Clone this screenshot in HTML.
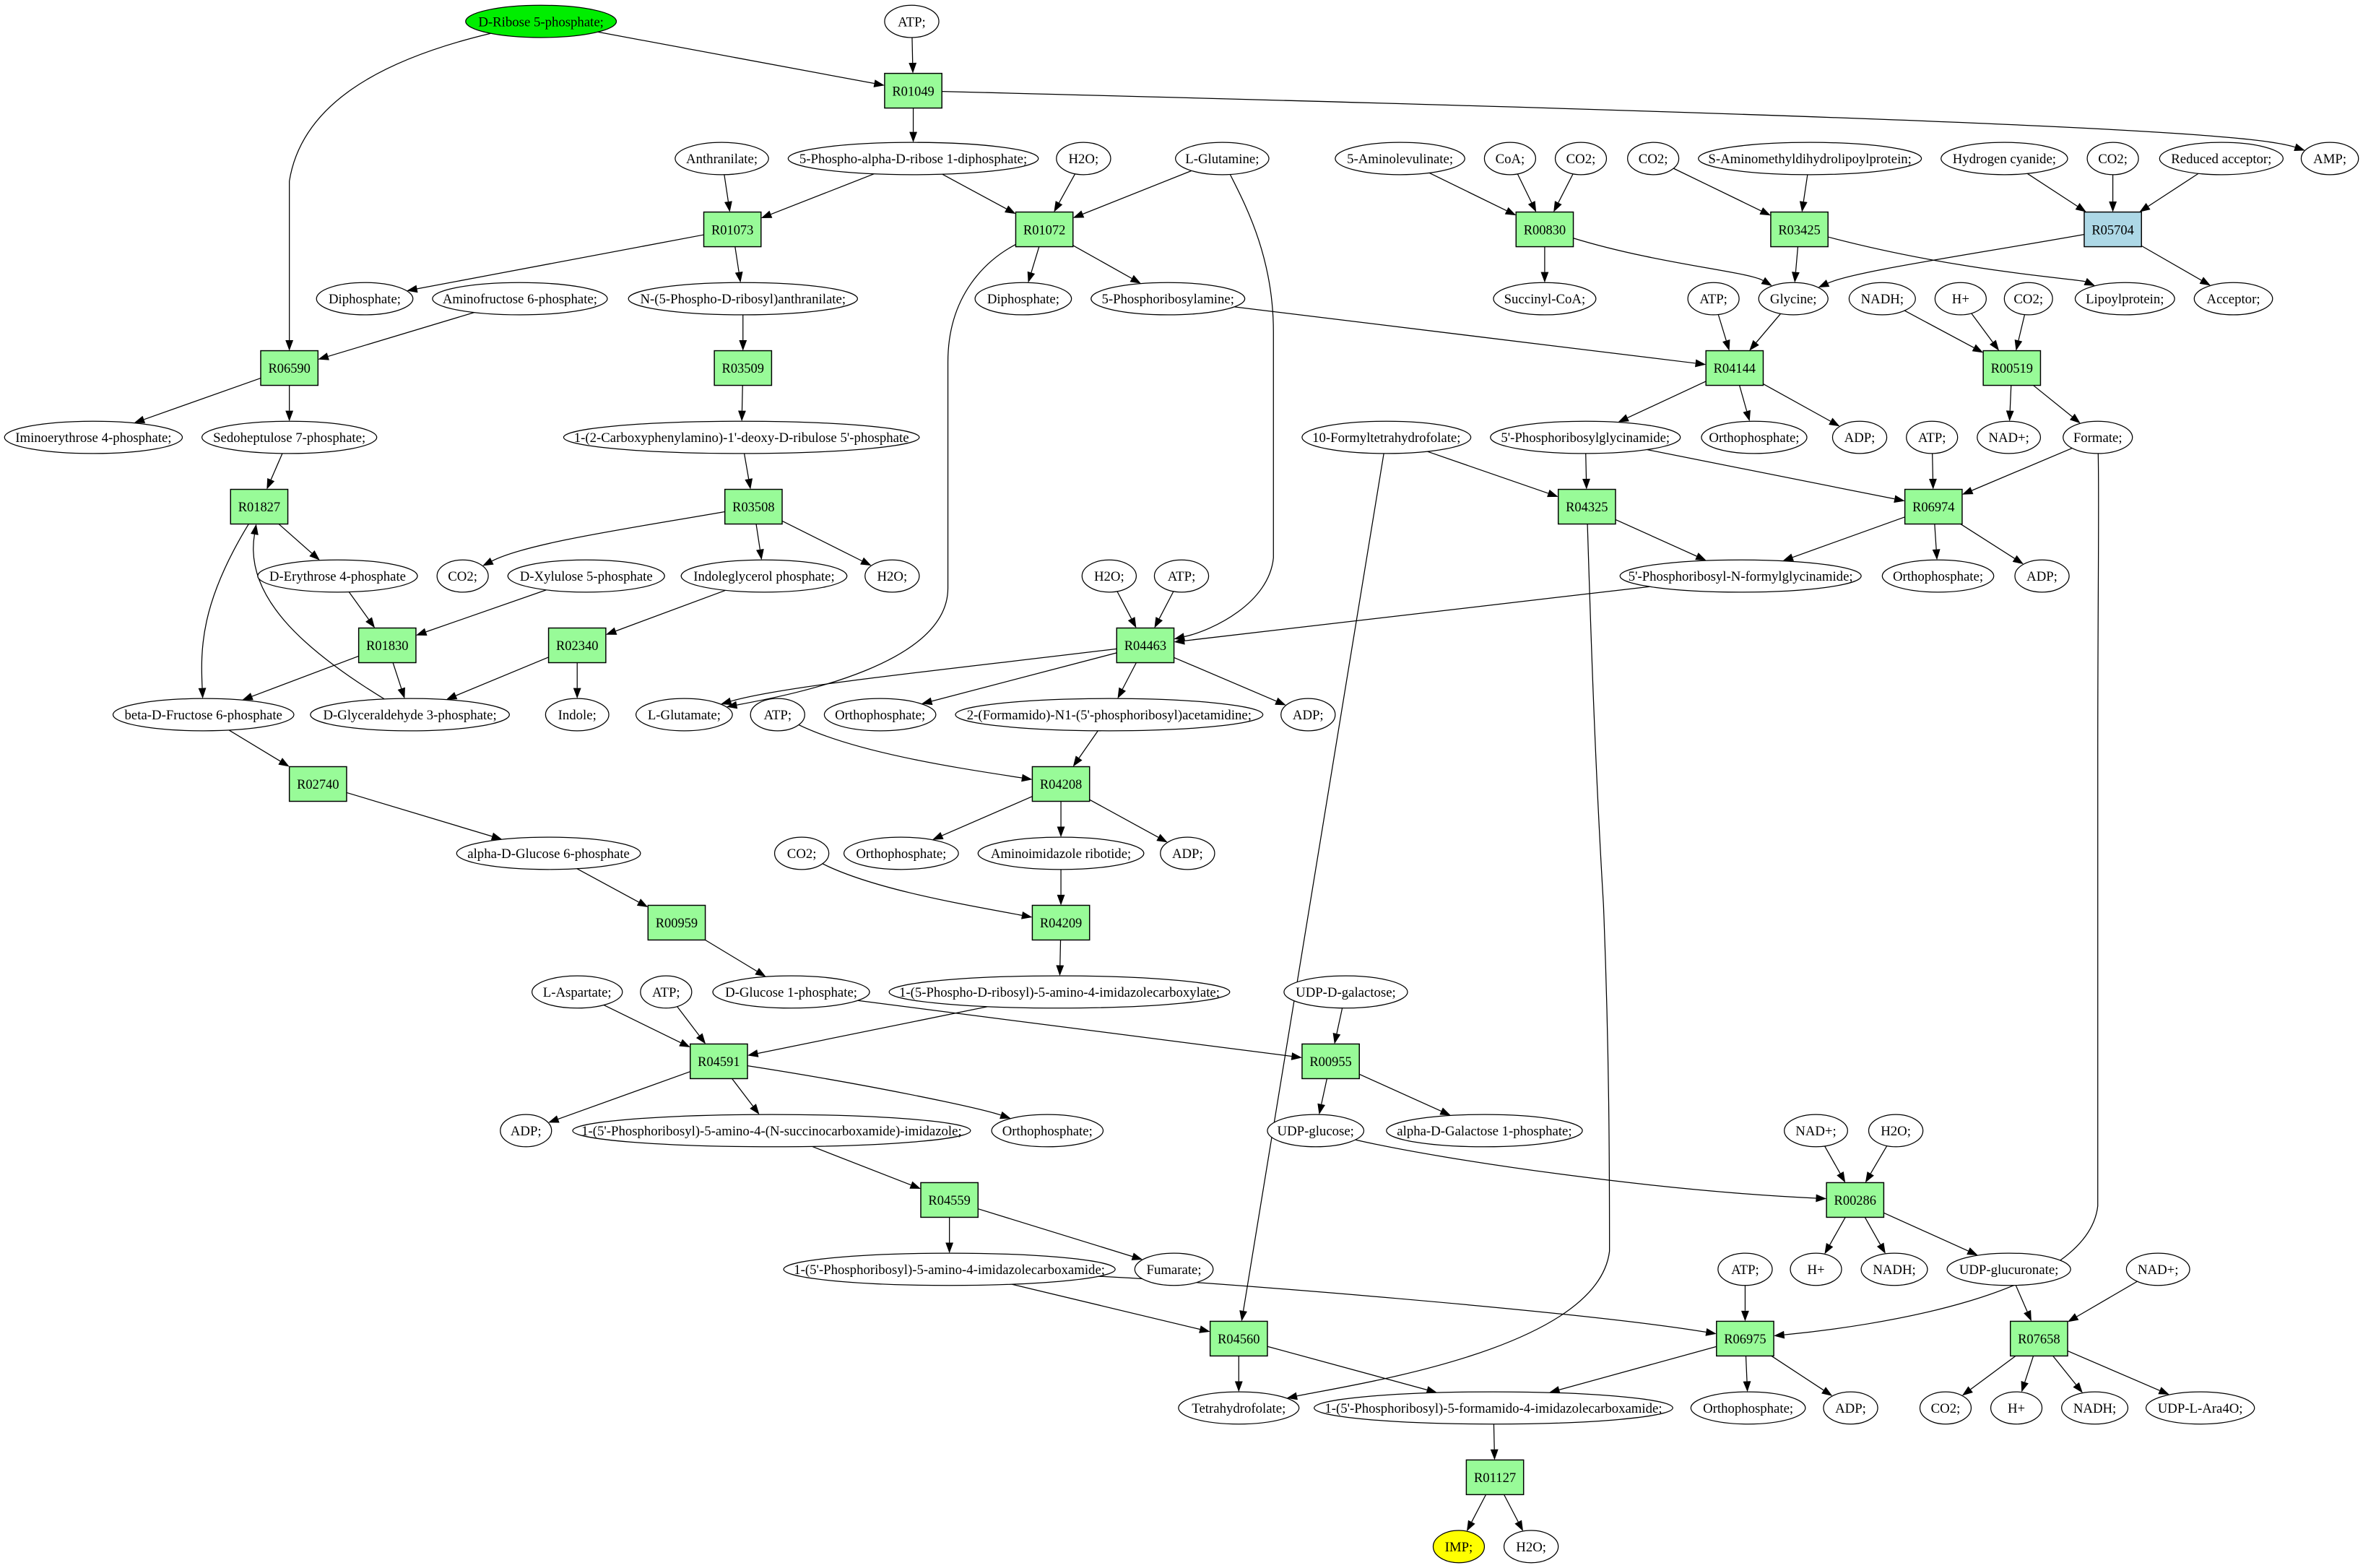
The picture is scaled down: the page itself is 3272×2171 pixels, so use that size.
<!DOCTYPE html>
<html><head><meta charset="utf-8"><style>
html,body{margin:0;padding:0;background:#fff;}
svg{display:block;}
text{font-family:"Liberation Serif",serif;font-size:9px;}
</style></head><body>
<svg id="s" width="3272" height="2171" viewBox="0 0 1568 1040" xmlns="http://www.w3.org/2000/svg">
<rect width="1568" height="1040" fill="#fff"/>
<g id="E" stroke="#000" stroke-width="0.6" fill="none"></g>
<g id="A" fill="#000"></g>
<g id="N"></g>
</svg>
<script>
var N={};
function e(id,x,y,rx,label,fill){N[id]={t:'e',x:x,y:y,rx:rx,ry:10.7,l:label||id,f:fill||'#fff'};}
function b(id,x,y,fill){N[id]={t:'b',x:x,y:y,w:19,h:11.5,l:id,f:fill||'#98fb98'};}
e('DR',359,14,50,'D-Ribose 5-phosphate;','#00ee00');e('ATP0',605,14,18,'ATP;');
b('R01049',606,60);
e('AMP',1546,105,19,'AMP;');
e('Anth',479,105,31,'Anthranilate;');e('PRPP',606,105,83,'5-Phospho-alpha-D-ribose 1-diphosphate;');
e('H2O1',719,105,18,'H2O;');e('Gln',811,105,31,'L-Glutamine;');e('ALA',929,105,43,'5-Aminolevulinate;');
e('CoA',1002,105,17,'CoA;');e('CO2a',1049,105,17,'CO2;');e('CO2b',1097,105,17,'CO2;');
e('SAm',1201,105,74,'S-Aminomethyldihydrolipoylprotein;');e('HCN',1330,105,42,'Hydrogen cyanide;');
e('CO2c',1402,105,17,'CO2;');e('RedA',1474,105,41,'Reduced acceptor;');
b('R01073',486,152);b('R01072',693,152);b('R00830',1025,152);b('R03425',1194,152);b('R05704',1402,152,'#add8e6');
e('PPi1',242,198,32,'Diphosphate;');e('AmF',345,198,58,'Aminofructose 6-phosphate;');
e('NPRA',493,198,76,'N-(5-Phospho-D-ribosyl)anthranilate;');e('PPi2',679,198,32,'Diphosphate;');
e('PRA',775,198,51,'5-Phosphoribosylamine;');e('SucCoA',1025,198,34,'Succinyl-CoA;');
e('ATP1',1137,198,17,'ATP;');e('Gly',1190,198,23,'Glycine;');e('NADH0',1249,198,22,'NADH;');
e('Hp0',1301,198,17,'H+');e('CO2d',1346,198,16,'CO2;');e('Lip',1410,198,33,'Lipoylprotein;');e('Acc',1482,198,26,'Acceptor;');
b('R06590',192,244);b('R03509',493,244);b('R04144',1151,244);b('R00519',1335,244);
e('Imino',62,290,59,'Iminoerythrose 4-phosphate;');e('Sed',192,290,58,'Sedoheptulose 7-phosphate;');
e('CDRP',492,290,118,"1-(2-Carboxyphenylamino)-1'-deoxy-D-ribulose 5'-phosphate");
e('FTHF',920,290,56,'10-Formyltetrahydrofolate;');e('GAR',1052,290,63,"5'-Phosphoribosylglycinamide;");
e('Pi1',1164,290,35,'Orthophosphate;');e('ADP1',1234,290,18,'ADP;');e('ATP2',1282,290,17,'ATP;');
e('NADp0',1333,290,21,'NAD+;');e('Form',1392,290,23,'Formate;');
b('R01827',172,336);b('R03508',500,336);b('R04325',1053,336);b('R06974',1283,336);
e('E4P',224,382,53,'D-Erythrose 4-phosphate');e('CO2e',307,382,17,'CO2;');e('Xu5P',389,382,52,'D-Xylulose 5-phosphate');
e('IGP',507,382,55,'Indoleglycerol phosphate;');e('H2O2',592,382,18,'H2O;');e('H2O3',736,382,18,'H2O;');
e('ATP3',784,382,18,'ATP;');e('FGAR',1155,382,80,"5'-Phosphoribosyl-N-formylglycinamide;");
e('Pi2',1286,382,37,'Orthophosphate;');e('ADP2',1355,382,18,'ADP;');
b('R01830',257,428);b('R02340',383,428);b('R04463',760,428);
e('F6P',135,474,60,'beta-D-Fructose 6-phosphate');e('GAP',272,474,66,'D-Glyceraldehyde 3-phosphate;');
e('Ind',383,474,21,'Indole;');e('Glu',454,474,32,'L-Glutamate;');e('ATP4',516,474,18,'ATP;');
e('Pi3',584,474,37,'Orthophosphate;');e('FGAM',736,474,102,"2-(Formamido)-N1-(5'-phosphoribosyl)acetamidine;");e('ADP3',868,474,18,'ADP;');
b('R02740',211,520);b('R04208',704,520);
e('G6P',364,566,61,'alpha-D-Glucose 6-phosphate');e('CO2f',532,566,18,'CO2;');e('Pi4',598,566,38,'Orthophosphate;');
e('AIR',704,566,55,'Aminoimidazole ribotide;');e('ADP4',788,566,18,'ADP;');
b('R00959',449,612);b('R04209',704,612);
e('Asp',383,658,30,'L-Aspartate;');e('ATP5',442,658,17,'ATP;');e('G1P',525,658,52,'D-Glucose 1-phosphate;');
e('CAIR',703,658,113,'1-(5-Phospho-D-ribosyl)-5-amino-4-imidazolecarboxylate;');e('UDPgal',893,658,41,'UDP-D-galactose;');
b('R04591',477,704);b('R00955',883,704);
e('ADP5',349,750,17,'ADP;');e('SAICAR',512,750,132,"1-(5'-Phosphoribosyl)-5-amino-4-(N-succinocarboxamide)-imidazole;");
e('Pi5',695,750,37,'Orthophosphate;');e('UDPglc',873,750,32,'UDP-glucose;');e('Gal1P',985,750,65,'alpha-D-Galactose 1-phosphate;');
e('NADp1',1205,750,21,'NAD+;');e('H2O4',1258,750,18,'H2O;');
b('R04559',630,796);b('R00286',1231,796);
e('AICAR',630,842,110,"1-(5'-Phosphoribosyl)-5-amino-4-imidazolecarboxamide;");e('Fum',779,842,26,'Fumarate;');
e('ATP6',1158,842,18,'ATP;');e('Hp1',1205,842,17,'H+');e('NADH1',1257,842,22,'NADH;');
e('UDPGA',1333,842,41,'UDP-glucuronate;');e('NADp2',1432,842,21,'NAD+;');
b('R04560',822,888);b('R06975',1158,888);b('R07658',1353,888);
e('THF',822,934,40,'Tetrahydrofolate;');e('FAICAR',991,934,119,"1-(5'-Phosphoribosyl)-5-formamido-4-imidazolecarboxamide;");
e('Pi6',1160,934,38,'Orthophosphate;');e('ADP6',1228,934,18,'ADP;');e('CO2g',1291,934,17,'CO2;');
e('Hp2',1338,934,17,'H+');e('NADH2',1390,934,22,'NADH;');e('Ara',1460,934,36,'UDP-L-Ara4O;');
b('R01127',992,980);
e('IMP',968,1026,17,'IMP;','#ffff00');e('H2O5',1016,1026,18,'H2O;');

var E=[
['DR','R01049'],['ATP0','R01049'],['R01049','PRPP'],['R01049','AMP',[[1400,80],[1500,90]]],
['DR','R06590',[[250,40],[200,70],[192,120],[192,180],[192,220]]],
['Anth','R01073'],['PRPP','R01073'],['PRPP','R01072'],['H2O1','R01072'],['Gln','R01072'],
['R01073','PPi1'],['R01073','NPRA'],['AmF','R06590'],['R01072','PPi2'],['R01072','PRA'],
['R01072','Glu',[[655,172],[629,195],[629,240],[629,320],[629,360],[629,390],[629,440],[530,460]]],
['Gln','R04463',[[826,135],[845,170],[845,220],[845,290],[845,330],[845,370],[842,400],[805,418]]],
['ALA','R00830'],['CoA','R00830'],['CO2a','R00830'],['R00830','SucCoA'],['R00830','Gly',[[1100,175],[1160,180]]],
['CO2b','R03425'],['SAm','R03425'],['R03425','Gly'],['R03425','Lip',[[1300,180],[1380,185]]],
['HCN','R05704'],['CO2c','R05704'],['RedA','R05704'],['R05704','Gly',[[1300,170],[1230,180]]],['R05704','Acc'],
['R06590','Imino'],['R06590','Sed'],['NPRA','R03509'],['R03509','CDRP'],['CDRP','R03508'],
['PRA','R04144'],['ATP1','R04144'],['Gly','R04144'],['R04144','GAR'],['R04144','Pi1'],['R04144','ADP1'],
['NADH0','R00519'],['Hp0','R00519'],['CO2d','R00519'],['R00519','NADp0'],['R00519','Form'],
['Sed','R01827'],['R01827','E4P'],['R01827','F6P',[[140,375],[133,400],[133,430]].slice(1)],
['GAP','R01827',[[200,430],[162,395]]],
['R03508','CO2e',[[420,350],[350,360]]],['R03508','IGP'],['R03508','H2O2'],
['FTHF','R04325'],['GAR','R04325'],['GAR','R06974'],['ATP2','R06974'],['Form','R06974'],
['R04325','FGAR'],['R06974','FGAR'],['R06974','Pi2'],['R06974','ADP2'],
['FTHF','R04560'],
['Form','R06975',[[1393,330],[1392,400],[1392,500],[1392,650],[1392,750],[1392,800],[1385,860],[1240,880]]],
['R04325','THF',[[1055,400],[1058,500],[1064,600],[1068,700],[1068,780],[1068,830],[1060,895],[900,918]]],
['E4P','R01830'],['Xu5P','R01830'],['R01830','F6P'],['R01830','GAP'],['IGP','R02340'],['R02340','GAP'],['R02340','Ind'],
['FGAR','R04463'],['H2O3','R04463'],['ATP3','R04463'],['R04463','Glu',[[620,445],[520,455]]],['R04463','Pi3'],['R04463','FGAM'],['R04463','ADP3'],
['F6P','R02740'],['R02740','G6P'],['G6P','R00959'],['R00959','G1P'],
['FGAM','R04208'],['ATP4','R04208',[[570,500],[640,510]]],['R04208','Pi4'],['R04208','AIR'],['R04208','ADP4'],
['AIR','R04209'],['CO2f','R04209',[[580,590],[640,600]]],['R04209','CAIR'],
['CAIR','R04591'],['Asp','R04591'],['ATP5','R04591'],['R04591','ADP5'],['R04591','SAICAR'],['R04591','Pi5',[[580,720],[650,735]]],
['G1P','R00955'],['UDPgal','R00955'],['R00955','UDPglc'],['R00955','Gal1P'],
['SAICAR','R04559'],['R04559','AICAR'],['R04559','Fum'],
['UDPglc','R00286',[[960,770],[1100,790]]],['NADp1','R00286'],['H2O4','R00286'],['R00286','Hp1'],['R00286','NADH1'],['R00286','UDPGA'],
['AICAR','R04560'],['AICAR','R06975',[[800,850],[1050,870]]],['ATP6','R06975'],['R04560','THF'],['R04560','FAICAR'],
['R06975','FAICAR'],['R06975','Pi6'],['R06975','ADP6'],
['UDPGA','R07658'],['NADp2','R07658'],['R07658','CO2g'],['R07658','Hp2'],['R07658','NADH2'],['R07658','Ara'],
['FAICAR','R01127'],['R01127','IMP'],['R01127','H2O5']
];
function clip(n,px,py){
 var dx=px-n.x,dy=py-n.y;
 if(n.t=='e'){var k=1/Math.sqrt(dx*dx/(n.rx*n.rx)+dy*dy/(n.ry*n.ry));return [n.x+dx*k,n.y+dy*k];}
 var k=Math.min(n.w/Math.abs(dx||1e-9),n.h/Math.abs(dy||1e-9));return [n.x+dx*k,n.y+dy*k];
}
var ns='http://www.w3.org/2000/svg';
function mk(tag,at,par,txt){var el=document.createElementNS(ns,tag);for(var k in at)el.setAttribute(k,at[k]);if(txt!=null)el.textContent=txt;document.getElementById(par).appendChild(el);return el;}
E.forEach(function(ed){
 var a=N[ed[0]],c=N[ed[1]],P=ed[2]||[];
 var first=P.length?P[0]:[c.x,c.y];
 var s=clip(a,first[0],first[1]);
 var last=P.length?P[P.length-1]:s;
 var t=clip(c,last[0],last[1]);
 var dx=t[0]-last[0],dy=t[1]-last[1],L=Math.sqrt(dx*dx+dy*dy)||1,ux=dx/L,uy=dy/L;
 var al=7,aw=2.6;var bx=t[0]-ux*al,by=t[1]-uy*al;
 var d='M'+s[0]+','+s[1];
 if(P.length){
  var i=0;
  while(P.length-i>2){d+=' C'+P[i]+' '+P[i+1]+' '+P[i+2];i+=3;}
  d+=' C'+P[i]+' '+P[i+1]+' '+bx+','+by;
 } else d+=' L'+bx+','+by;
 mk('path',{d:d},'E');
 mk('polygon',{points:t[0]+','+t[1]+' '+(bx-uy*aw)+','+(by+ux*aw)+' '+(bx+uy*aw)+','+(by-ux*aw)},'A');
});
for(var id in N){var n=N[id],tx,tl;
 if(n.t=='e'){mk('ellipse',{cx:n.x,cy:n.y,rx:n.rx,ry:n.ry,fill:n.f,stroke:'#000','stroke-width':0.6},'N');
  tl=Math.max(8,2*n.rx-9);}
 else{mk('rect',{x:n.x-n.w,y:n.y-n.h,width:2*n.w,height:2*n.h,fill:n.f,stroke:'#000','stroke-width':0.7},'N');tl=28;}
 tx=mk('text',{x:n.x,y:n.y+3.2,'text-anchor':'middle'},'N',n.l);
 var w=0;try{w=tx.getComputedTextLength();}catch(err){}
 if(!w||w>tl){tx.setAttribute('textLength',tl);tx.setAttribute('lengthAdjust','spacingAndGlyphs');}
}
</script>
</body></html>
